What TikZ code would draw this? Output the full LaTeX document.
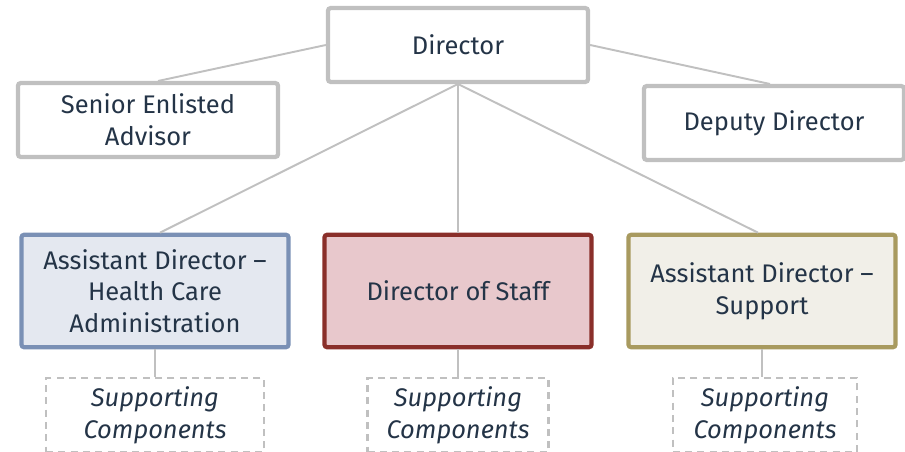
\documentclass[tikz,border=0pt]{standalone}
\usepackage{fontspec}
\setmainfont{Fira Sans}
\usepackage{tikz}
\usetikzlibrary{positioning}

\definecolor{txt}{HTML}{243447}
\definecolor{gry}{HTML}{C0C0C0}
\definecolor{bluebd}{HTML}{7A90B5}
\definecolor{bluefl}{HTML}{E4E8F0}
\definecolor{redbd}{HTML}{8A2F2A}
\definecolor{redfl}{HTML}{E8C8CC}
\definecolor{goldbd}{HTML}{A89A5F}
\definecolor{goldfl}{HTML}{F1EFE8}

\tikzset{
  box/.style={draw=gry,line width=2.4pt,rounded corners=1.5pt,fill=white,align=center,
    text=txt,font=\fontsize{14.5}{18}\selectfont,inner sep=0pt},
  topbox/.style={box,minimum width=148pt,minimum height=42pt},
  unitbox/.style={box,minimum width=152pt,minimum height=64pt},
  supbox/.style={box,draw=gry,line width=1.2pt,dash pattern=on 4pt off 3pt,rounded corners=0pt,
    minimum height=42pt,font=\fontsize{14.5}{18}\selectfont\itshape},
  link/.style={draw=gry,line width=1.1pt}
}

\begin{document}
\begin{tikzpicture}[x=0.02cm,y=-0.02cm]
\useasboundingbox (0,0) rectangle (905,452);

\node[topbox] (dir) at (458,45) {Director};
\node[topbox] (sea) at (148,120) {Senior Enlisted\\Advisor};
\node[topbox] (dep) at (774,123) {Deputy Director};

\node[unitbox,draw=bluebd,fill=bluefl] (hca) at (155,291) {Assistant Director --\\Health Care\\Administration};
\node[unitbox,draw=redbd,fill=redfl] (dos) at (458,291) {Director of Staff};
\node[unitbox,draw=goldbd,fill=goldfl] (sup) at (762,291) {Assistant Director --\\Support};

\node[supbox,minimum width=124pt] (hcac) at (155,415) {Supporting\\Components};
\node[supbox,minimum width=103pt] (dosc) at (458,415) {Supporting\\Components};
\node[supbox,minimum width=105pt] (supc) at (765,415) {Supporting\\Components};

\draw[link] (dir.west) -- ([xshift=0.2cm]sea.north);
\draw[link] (dir.east) -- ([xshift=-0.08cm]dep.north);
\draw[link] (dir.south) -- ([xshift=0.1cm]hca.north);
\draw[link] (dir.south) -- (dos.north);
\draw[link] (dir.south) -- ([xshift=-0.08cm]sup.north);
\foreach \from/\to in {hca/hcac,dos/dosc,sup/supc}
  \draw[link] (\from.south) -- (\from.south |- \to.north);
\end{tikzpicture}
\end{document}
